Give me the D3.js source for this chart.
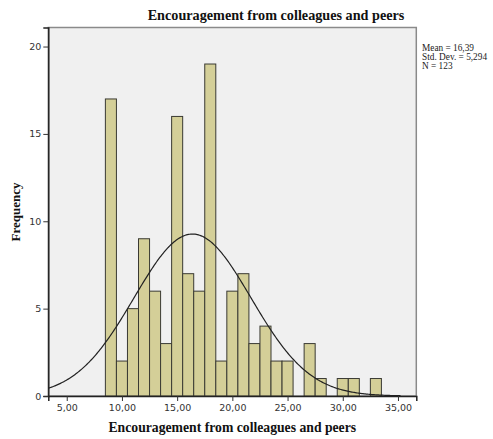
<!DOCTYPE html>
<html>
<head>
<meta charset="utf-8">
<script src="https://cdn.jsdelivr.net/npm/d3@7"></script>
<style>
  html, body { margin: 0; padding: 0; background: #ffffff; }
  svg { display: block; }
</style>
</head>
<body>
<svg id="chart" width="493" height="439"></svg>
<script>
// Histogram bins (centre value of each unit-wide bin) and their frequencies
const binCenters = [9, 10, 11, 12, 13, 14, 15, 16, 17, 18, 19, 20, 21, 22, 23, 24, 25, 26, 27, 28, 29, 30, 31, 32, 33];
const frequencies = [17, 2, 5, 9, 6, 3, 16, 7, 6, 19, 2, 6, 7, 3, 4, 2, 2, 0, 3, 1, 0, 1, 1, 0, 1];
const binWidth = 1;

// Summary statistics shown beside the plot
const statMean = 16.39;
const statSD = 5.294;
const statN = 123;

// Axis ticks
const xTicks = [5, 10, 15, 20, 25, 30, 35];
const yTicks = [0, 5, 10, 15, 20];

const titleText = "Encouragement from colleagues and peers";
const xTitle = "Encouragement from colleagues and peers";
const yTitle = "Frequency";

const svg = d3.select("#chart");
const plot = { left: 48.3, right: 416.3, top: 27.5, bottom: 396 };

const x = d3.scaleLinear().domain([3.33, 36.66]).range([plot.left, plot.right]);
const y = d3.scaleLinear().domain([0, 21.09]).range([plot.bottom, plot.top]);

const comma = v => d3.format(".2f")(v).replace(".", ",");

// Plot background with grey frame
svg.append("rect")
  .attr("x", plot.left).attr("y", plot.top)
  .attr("width", plot.right - plot.left).attr("height", plot.bottom - plot.top)
  .attr("fill", "#f0f0f0")
  .attr("stroke", "#8a8a8a").attr("stroke-width", 1.5);

// Bars
svg.append("g").selectAll("rect")
  .data(binCenters.map((c, i) => ({ c, f: frequencies[i] })).filter(d => d.f > 0))
  .join("rect")
  .attr("x", d => x(d.c - binWidth / 2))
  .attr("y", d => y(d.f))
  .attr("width", d => x(d.c + binWidth / 2) - x(d.c - binWidth / 2))
  .attr("height", d => y(0) - y(d.f))
  .attr("fill", "#d4cf98")
  .attr("stroke", "#3a3a33")
  .attr("stroke-width", 1);

// Fitted normal curve, scaled to counts
const pdf = v => Math.exp(-0.5 * ((v - statMean) / statSD) ** 2) / (statSD * Math.sqrt(2 * Math.PI));
const curvePts = d3.range(3.33, 35.3, 0.1).map(v => [v, statN * binWidth * pdf(v)]);
svg.append("path")
  .datum(curvePts)
  .attr("fill", "none")
  .attr("stroke", "#222")
  .attr("stroke-width", 1.2)
  .attr("d", d3.line().x(d => x(d[0])).y(d => y(d[1])));

// Axes
const xAxis = svg.append("g")
  .attr("transform", `translate(0,${plot.bottom})`)
  .call(d3.axisBottom(x).tickValues(xTicks).tickSize(5).tickPadding(3).tickFormat(comma));
const yAxis = svg.append("g")
  .attr("transform", `translate(${plot.left},0)`)
  .call(d3.axisLeft(y).tickValues(yTicks).tickSize(5).tickPadding(2).tickFormat(d3.format("d")));

[xAxis, yAxis].forEach(a => {
  a.select(".domain").attr("stroke", "#222").attr("stroke-width", 1.5);
  a.selectAll(".tick line").attr("stroke", "#333");
  a.selectAll(".tick text")
    .attr("fill", "#333")
    .attr("font-family", "'DejaVu Sans', sans-serif")
    .attr("font-size", "9.5px");
});

// Titles
svg.append("text")
  .attr("x", 276).attr("y", 20)
  .attr("text-anchor", "middle")
  .attr("font-family", "'Liberation Serif', 'Times New Roman', serif")
  .attr("font-weight", "bold")
  .attr("font-size", "14.2px")
  .attr("fill", "#111")
  .text(titleText);

svg.append("text")
  .attr("x", (plot.left + plot.right) / 2).attr("y", 432)
  .attr("text-anchor", "middle")
  .attr("font-family", "'Liberation Serif', 'Times New Roman', serif")
  .attr("font-weight", "bold")
  .attr("font-size", "13.7px")
  .attr("fill", "#111")
  .text(xTitle);

svg.append("text")
  .attr("transform", `translate(20,212) rotate(-90)`)
  .attr("text-anchor", "middle")
  .attr("font-family", "'Liberation Serif', 'Times New Roman', serif")
  .attr("font-weight", "bold")
  .attr("font-size", "13px")
  .attr("fill", "#111")
  .text(yTitle);

// Statistics legend
const statLines = [
  `Mean = ${comma(statMean)}`,
  `Std. Dev. = ${d3.format(".3f")(statSD).replace(".", ",")}`,
  `N = ${statN}`
];
svg.append("g").selectAll("text")
  .data(statLines)
  .join("text")
  .attr("x", 422)
  .attr("y", (d, i) => 51 + i * 9)
  .attr("font-family", "'Liberation Serif', 'Times New Roman', serif")
  .attr("font-size", "9.3px")
  .attr("fill", "#222")
  .text(d => d);
</script>
</body>
</html>
